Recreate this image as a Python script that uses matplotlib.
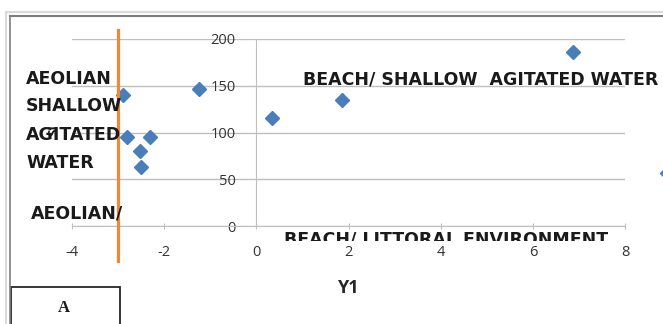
import matplotlib.pyplot as plt
from matplotlib.patches import Rectangle
from matplotlib.lines import Line2D

# Data
y1 = [-2.89, -1.25, -2.81, -2.31, -2.53, -2.51, 0.33, 1.86, 6.87, 8.92]
si = [140, 146, 95, 95, 80, 63, 115, 135, 186, 57]
boundary_x = -3.0

xticks = [-4, -2, 0, 2, 4, 6, 8]
yticks = [0, 50, 100, 150, 200]

W, H = 663, 324
plt.rcParams['font.family'] = ['Open Sans', 'DejaVu Sans']
plt.rcParams['axes.unicode_minus'] = False

fig = plt.figure(figsize=(W / 100, H / 100), dpi=100)

def px(x, y):
    return x / W, 1 - y / H

# chart frame (Excel style double border)
fig.add_artist(Line2D([6 / W, 1], [1 - 12 / H] * 2, color='#d9d9d9', lw=1.5))
fig.add_artist(Line2D([6 / W] * 2, [0, 1 - 12 / H], color='#d9d9d9', lw=1.5))
fig.add_artist(Line2D([10 / W, 1], [1 - 16 / H] * 2, color='#7f7f7f', lw=1.5))
fig.add_artist(Line2D([10 / W] * 2, [0, 1 - 16 / H], color='#7f7f7f', lw=1.2))

l, b = px(72, 226)
r, t = px(625, 39)
ax = fig.add_axes([l, b, r - l, t - b])
ax.set_xlim(-4, 8)
ax.set_ylim(0, 200)

for s in ['top', 'right']:
    ax.spines[s].set_visible(False)
ax.spines['left'].set_position(('data', 0))
ax.spines['left'].set_color('#bfbfbf')
ax.spines['bottom'].set_color('#bfbfbf')
ax.set_xticks(xticks)
ax.set_yticks(yticks)
ax.tick_params(axis='y', length=0, pad=15, labelsize=10.5, labelcolor='#333333')
ax.tick_params(axis='x', length=4, direction='inout', color='#bfbfbf', pad=12,
               labelsize=10.5, labelcolor='#333333')
ax.yaxis.grid(True, color='#bfbfbf', lw=1)
ax.set_axisbelow(True)

ax.plot(y1, si, 'D', color='#4a7ebb', markersize=7.5, clip_on=False, zorder=3)
ax.plot([boundary_x, boundary_x], [210, -37], color='#f0883a', lw=2.3,
        clip_on=False, zorder=4)

fig.text(*px(348, 288), 'Y1', fontsize=13, fontweight='bold', color='#262626',
         ha='center', va='center')

# zone annotations
tk = dict(fontsize=12.5, fontweight='bold', family='DejaVu Sans', color='#1a1a1a',
          va='center', ha='left')
for txt, yy in [('AEOLIAN', 79), ('SHALLOW', 106), ('AGITATED', 135), ('WATER', 163)]:
    fig.text(*px(26, yy), txt, **tk)
fig.text(*px(31, 213), 'AEOLIAN/', **tk)
fig.text(*px(303, 79), 'BEACH/ SHALLOW  AGITATED WATER', **tk)
fig.text(*px(54, 130), 'SI', fontsize=9.5, fontweight='bold', rotation=90,
         va='center', ha='center', color='#1a1a1a')

# half hidden lower label
cl, cb = px(0, 241)
ct = 1 - 226 / H
cax = fig.add_axes([cl, cb, 1, ct - cb])
cax.axis('off')
cax.set_xlim(0, W)
cax.set_ylim(241, 226)
cax.text(284, 230, 'BEACH/ LITTORAL ENVIRONMENT', fontsize=12.5, fontweight='bold',
         family='DejaVu Sans', color='#1a1a1a', va='top', ha='left', clip_on=True)

# panel label box
fig.add_artist(Rectangle(px(11, 330), 109 / W, 43 / H, facecolor='white',
                         edgecolor='#262626', lw=1.3))
fig.text(*px(64, 308), 'A', fontsize=12, fontweight='bold', family='Liberation Serif',
         ha='center', va='center', color='#1a1a1a')

fig.savefig('out.png', dpi=100)
